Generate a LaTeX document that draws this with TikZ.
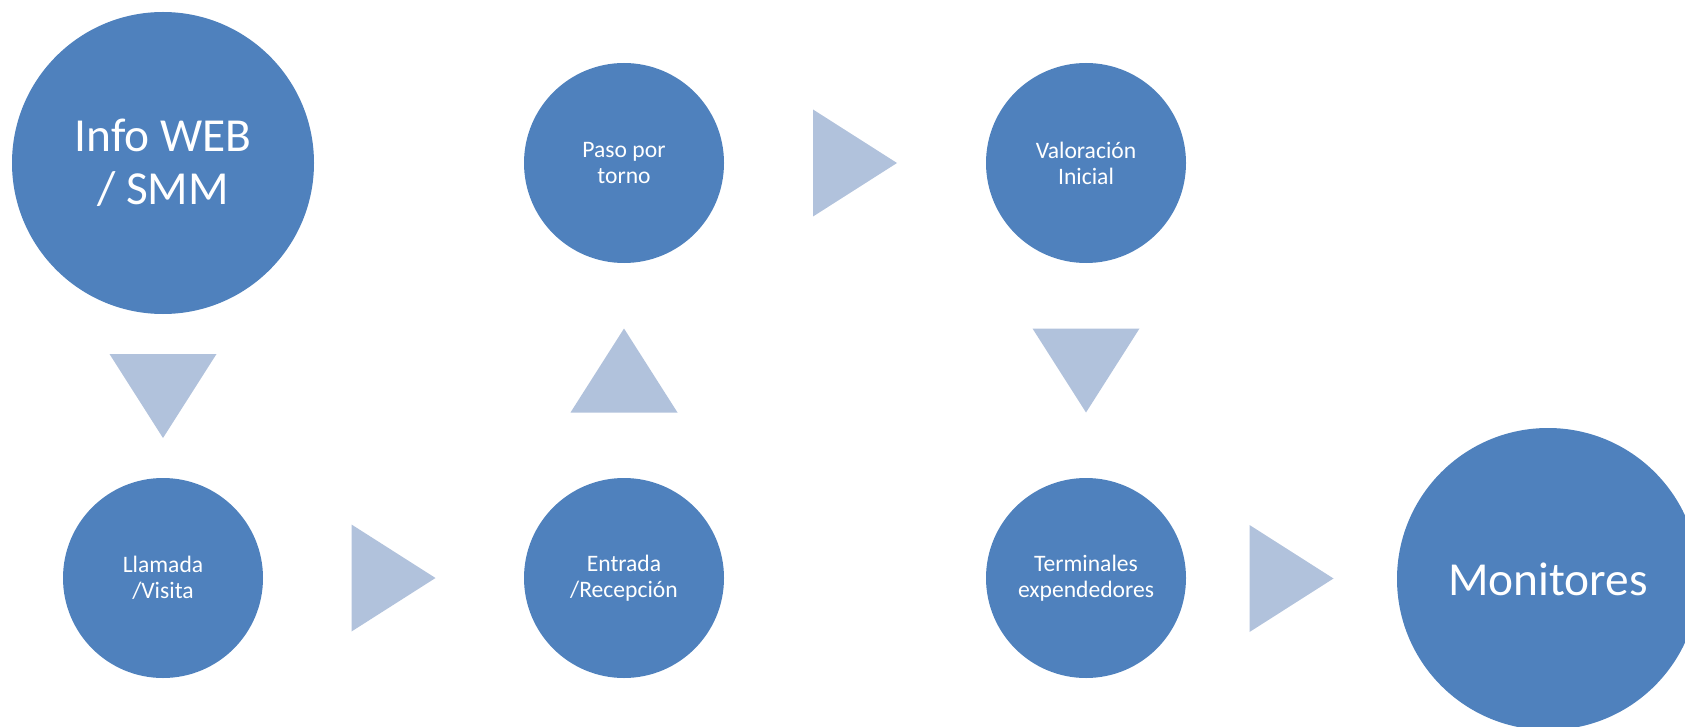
\documentclass[tikz,border=0pt]{standalone}
\usepackage{fontspec}
\setmainfont{Carlito}
\usetikzlibrary{positioning,calc}
\definecolor{stepblue}{HTML}{4F81BD}
\definecolor{arrowblue}{HTML}{B1C2DC}

\begin{document}
\begin{tikzpicture}[x=0.5pt,y=-0.5pt,
		bigstep/.style={circle,fill=stepblue,text=white,minimum size=151pt,inner sep=0pt,align=center,font=\fontsize{23.7}{26.5}\selectfont},
		smallstep/.style={circle,fill=stepblue,text=white,minimum size=100pt,inner sep=0pt,align=center,font=\fontsize{11.8}{13}\selectfont},
		arrowtri/.style={fill=arrowblue}]
				\clip (0,0) rectangle (1685,727);
				
				% top row
				\node[bigstep] (info) at (163,163) {Info WEB\\/ SMM};
				\node[smallstep] (paso) at (624,163) {Paso por\\torno};
				\node[smallstep] (valoracion) at (1086,163) {Valoración\\Inicial};
				
				% bottom row
				\node[smallstep] (llamada) at (163,578) {Llamada\\/Visita};
				\node[smallstep] (entrada) at (624,578) {Entrada\\/Recepción};
				\node[smallstep] (terminales) at (1086,578) {Terminales\\expendedores};
				\node[bigstep] (monitores) at (1548,579) {Monitores};
				
				% arrows between steps
				\coordinate (a1) at ($(info.south)!0.5!(llamada.north)$);
				\coordinate (a2) at ($(llamada.east)!0.5!(entrada.west)$);
				\coordinate (a3) at ($(entrada.north)!0.5!(paso.south)$);
				\coordinate (a4) at ($(paso.east)!0.5!(valoracion.west)$);
				\coordinate (a5) at ($(valoracion.south)!0.5!(terminales.north)$);
				\coordinate (a6) at ($(terminales.east)!0.5!(monitores.west)$);
				
				\fill[arrowtri,shift={(a1)},rotate=-90] (-42,-53.5) -- (42,0) -- (-42,53.5) -- cycle;
				\fill[arrowtri,shift={(a2)}] (-42,-53.5) -- (42,0) -- (-42,53.5) -- cycle;
				\fill[arrowtri,shift={(a3)},rotate=90] (-42,-53.5) -- (42,0) -- (-42,53.5) -- cycle;
				\fill[arrowtri,shift={(a4)}] (-42,-53.5) -- (42,0) -- (-42,53.5) -- cycle;
				\fill[arrowtri,shift={(a5)},rotate=-90] (-42,-53.5) -- (42,0) -- (-42,53.5) -- cycle;
				\fill[arrowtri,shift={(a6)}] (-42,-53.5) -- (42,0) -- (-42,53.5) -- cycle;
			\end{tikzpicture}
\end{document}
